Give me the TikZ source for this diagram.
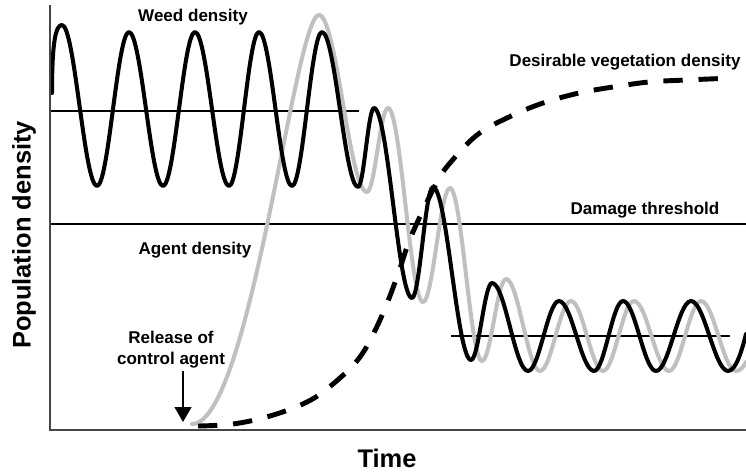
\documentclass[tikz,border=0pt]{standalone}
\usepackage{fontspec}
\setmainfont{Liberation Sans}
\usetikzlibrary{arrows.meta,calc}
\definecolor{agentgray}{RGB}{192,192,192}
\definecolor{axisgray}{RGB}{70,70,70}

\begin{document}
\begin{tikzpicture}[
    x=0.02cm,y=-0.02cm,
    >={Triangle[width=9.6pt,length=8.5pt]},
    lbl/.style={font=\fontsize{9.7}{11.9}\selectfont\bfseries,inner sep=1pt},
    axlbl/.style={font=\fontsize{14.5}{17}\selectfont\bfseries,inner sep=1pt},
    level/.style={line width=0.85pt},
    weed/.style={line width=2.3pt,line join=round,line cap=round},
    agent/.style={weed,draw=agentgray},
    vegetation/.style={line width=2.8pt,dash pattern=on 11pt off 9pt},
]
    \useasboundingbox (0,0) rectangle (746,474);

    \draw[level] (50,111) -- (359,111);
    \draw[level] (50,224) -- (746,224);
    \draw[level] (451,336) -- (730,336);

    \draw[agent] (192,424) .. controls (250,424) and (295,15) .. (319,15)
        \foreach \x/\y [remember=\x as \lx (initially 319)] in
            {367/192,388/108,423/302,450/188,482/361,506/279,540/371,
             571/301,603/371,634/301,669/371,701/301,736/371}
        { .. controls +({0.364*(\x-\lx)},0) and +({-0.364*(\x-\lx)},0) .. (\x,\y) }
        .. controls (741,371) and (744,366) .. (746,362);

    \draw[weed] (52,93) .. controls (52,40) and (56,25) .. (62,25)
        \foreach \x/\y [remember=\x as \lx (initially 62)] in
            {97/186,129/32,163/186,195/32,229/186,259/32,292/186,322/32,
             358/187,374/108,412/298,433/187,471/360,492/283,528/371,
             559/301,594/371,623/301,656/371,691/301,728/371}
        { .. controls +({0.364*(\x-\lx)},0) and +({-0.364*(\x-\lx)},0) .. (\x,\y) }
        .. controls (736,371) and (742,350) .. (746,334);

    \draw[vegetation] plot[smooth,tension=0.6] coordinates {
        (198,426) (233,424) (270,416) (307,402) (333,384) (360,357)
        (380,320) (397,277) (407,247) (417,223) (437,182) (450,163)
        (477,135) (509,117) (543,103) (579,93) (613,87) (649,82)
        (686,80) (733,78)};

    \draw[axisgray,line width=1.1pt] (50,5) -- (50,430) -- (746,430);

    \node[lbl] (weedlbl) at (193,17) {Weed density};
    \node[lbl] (veglbl) at (625,62) {Desirable vegetation density};
    \node[lbl] (damagelbl) at (645,210) {Damage threshold};
    \node[lbl] (agentlbl) at (195,250) {Agent density};
    \node[lbl,align=center] (release) at (171,350) {Release of\\control agent};
    \coordinate (tip) at (183,422);
    \draw[->,line width=0.85pt] (release.south -| tip) -- (tip);

    \node[axlbl] (timelbl) at (387,458) {Time};
    \node[axlbl,rotate=90] (poplbl) at (24,235) {Population density};
\end{tikzpicture}
\end{document}
